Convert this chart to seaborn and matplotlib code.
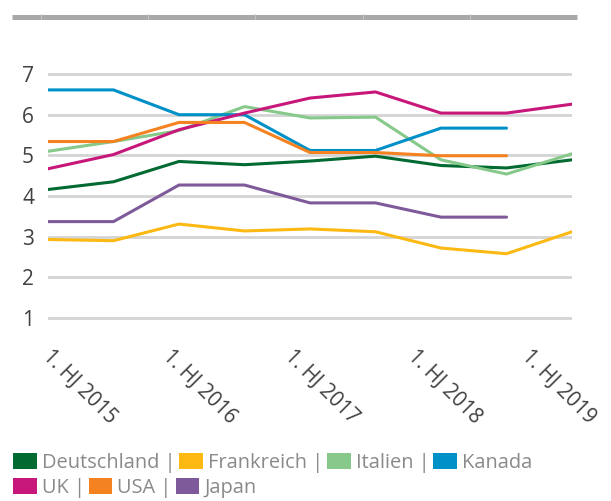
import numpy as np
import pandas as pd
import matplotlib
matplotlib.use("Agg")
import matplotlib.pyplot as plt
from matplotlib.patches import Patch
from matplotlib.lines import Line2D
import seaborn as sns

# ------------------------------------------
# DATA (Arbeitslosenquote in %, Halbjahre)
# ------------------------------------------
halbjahre = ["1. HJ 2015", "2. HJ 2015", "1. HJ 2016", "2. HJ 2016", "1. HJ 2017",
             "2. HJ 2017", "1. HJ 2018", "2. HJ 2018", "1. HJ 2019"]

deutschland = [4.16, 4.35, 4.85, 4.77, 4.86, 4.98, 4.75, 4.69, 4.89]
frankreich = [2.93, 2.90, 3.31, 3.14, 3.19, 3.12, 2.72, 2.58, 3.12]
italien = [5.10, 5.34, 5.61, 6.20, 5.92, 5.94, 4.89, 4.54, 5.04]
kanada = [6.61, 6.61, 6.00, 6.00, 5.12, 5.12, 5.67, 5.67, np.nan]
uk = [4.67, 5.02, 5.63, 6.04, 6.41, 6.56, 6.04, 6.04, 6.26]
usa = [5.34, 5.34, 5.81, 5.81, 5.07, 5.07, 4.99, 4.99, np.nan]
japan = [3.37, 3.37, 4.27, 4.27, 3.83, 3.83, 3.48, 3.48, np.nan]

laender = ["Deutschland", "Frankreich", "Italien", "Kanada", "UK", "USA", "Japan"]
farben = ["#006A31", "#FDB913", "#86C98A", "#0090C8", "#C8177A", "#F58220", "#7F5A9B"]

tick_labels = ["1. HJ 2015", "1. HJ 2016", "1. HJ 2017", "1. HJ 2018", "1. HJ 2019"]

# long format for seaborn
serien = [deutschland, frankreich, italien, kanada, uk, usa, japan]
df = pd.DataFrame({
    "idx": np.tile(np.arange(len(halbjahre)), len(laender)),
    "land": np.repeat(laender, len(halbjahre)),
    "wert": np.concatenate(serien),
}).dropna()

# ------------------------------------------
# PLOT
# ------------------------------------------
sns.set_style("white")
plt.rcParams["font.family"] = ["Open Sans", "DejaVu Sans"]

W, H = 611, 501
fig = plt.figure(figsize=(W / 100, H / 100), dpi=100)
ax = fig.add_axes([48 / W, 1 - 322 / H, (572 - 48) / W, (322 - 70) / H])

sns.lineplot(
    data=df, x="idx", y="wert", hue="land",
    hue_order=laender, palette=farben,
    linewidth=2.2, legend=False, ax=ax
)

ax.set_xlim(0, len(halbjahre) - 1)
ax.set_ylim(0.9, 7.1)
ax.set_yticks(range(1, 8))
ax.yaxis.grid(True, color="#d4d4d4", linewidth=2)
ax.xaxis.grid(False)
ax.set_axisbelow(True)
for s in ax.spines.values():
    s.set_visible(False)
ax.set_xlabel("")
ax.set_ylabel("")

# label anchors (layout only)
label_pos = [0.08, 1.91, 3.77, 5.65, 7.39]
ax.set_xticks(label_pos)
ax.set_xticklabels(tick_labels, rotation=-45, ha="left", va="top",
                   rotation_mode="anchor", fontsize=14.8, color="#404040")
ax.tick_params(axis="x", length=0, pad=17)
ax.tick_params(axis="y", length=0, pad=10, labelsize=15, labelcolor="#404040")

# gray bar on top
fig.add_artist(Line2D([12 / W, 577 / W], [1 - 16.5 / H] * 2,
                      transform=fig.transFigure, color="#a8a8a8", lw=3.6,
                      solid_capstyle="butt"))
for xs in [41, 148, 255, 363, 470]:
    fig.add_artist(Line2D([xs / W] * 2, [1 - 14 / H, 1 - 19 / H],
                          transform=fig.transFigure, color="#c4c4c4", lw=0.7))

# legend in two rows
handles = [Patch(facecolor=c, edgecolor="none") for c in farben]
labels = [f"{n} |" for n in laender]
labels[3] = laender[3]
labels[6] = laender[6]
leg_kw = dict(loc="upper left", frameon=False, handlelength=1.18, handleheight=0.8,
              handletextpad=0.25, columnspacing=0.2, borderpad=0, borderaxespad=0,
              fontsize=14.4, labelcolor="#8a8a8a")
fig.legend(handles[:4], labels[:4], ncol=4, bbox_to_anchor=(13 / W, 1 - 453 / H), **leg_kw)
fig.legend(handles[4:], labels[4:], ncol=3, bbox_to_anchor=(13 / W, 1 - 478 / H), **leg_kw)

fig.savefig("out.png", dpi=100)
